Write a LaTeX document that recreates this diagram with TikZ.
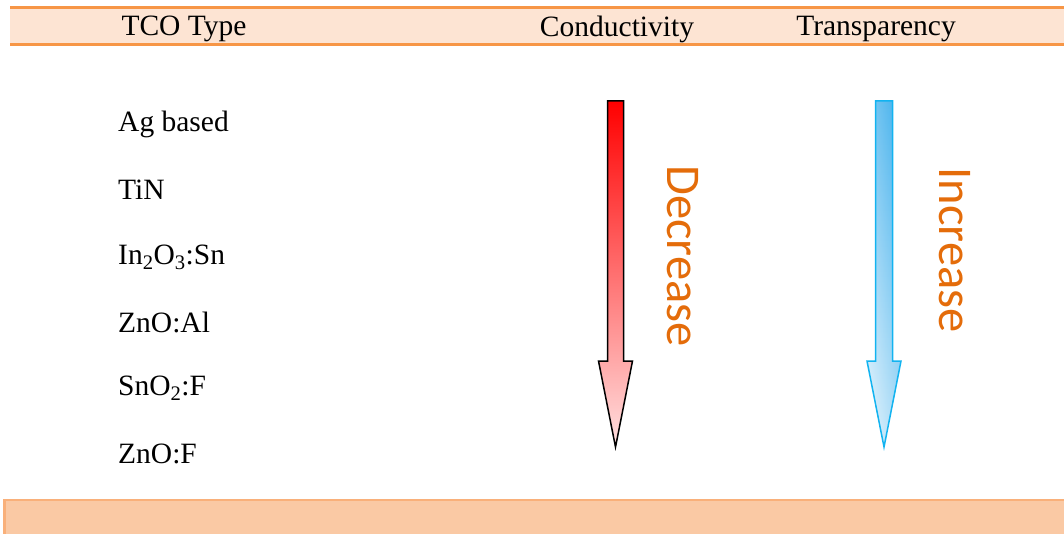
\documentclass[tikz,border=0pt]{standalone}
\usepackage{fontspec}
\setmainfont{Liberation Serif}
\newfontfamily\calib{Carlito}
\definecolor{hdrfill}{HTML}{FDE4D3}
\definecolor{hdrline}{HTML}{F79646}
\definecolor{botfill}{HTML}{FAC9A4}
\definecolor{botline}{HTML}{F9B07A}
\definecolor{lbl}{HTML}{E46C0A}
\definecolor{bluedark}{HTML}{3FAFEC}
\definecolor{bluelight}{HTML}{E2F3FD}
\definecolor{blueline}{HTML}{12B3F0}
\tikzset{
  hdr/.style={font=\fontsize{29.5}{34}\selectfont, anchor=center},
  item/.style={font=\fontsize{29.5}{34}\selectfont, anchor=west, inner sep=0pt},
  vlabel/.style={font=\calib\fontsize{48.5}{52}\selectfont, text=lbl, rotate=-90, anchor=center},
}
\begin{document}
\begin{tikzpicture}[x=1pt,y=-1pt]
\useasboundingbox (0,0) rectangle (1064,534);
% header band
\fill[hdrfill] (10,8) rectangle (1064,45);
\draw[hdrline, line width=3pt] (10,8) -- (1064,8);
\draw[hdrline, line width=3pt] (10,45) -- (1064,45);
\node[hdr] (h1) at (184,29) {TCO Type};
\node[hdr] (h2) at (617,29) {Conductivity};
\node[hdr] (h3) at (876,29) {Transparency};
% bottom band
\draw[botline, fill=botfill, line width=2.5pt] (4.5,500) -- (1070,500) -- (1070,540) -- (4.5,540) -- cycle;
% items
\node[item] (i1) at (118,124) {Ag based};
\node[item] (i2) at (118,190) {TiN};
\node[item] (i3) at (118,257) {In\textsubscript{2}O\textsubscript{3}:Sn};
\node[item] (i4) at (118,322) {ZnO:Al};
\node[item] (i5) at (118,388) {SnO\textsubscript{2}:F};
\node[item] (i6) at (118,454) {ZnO:F};
% red arrow
\draw[black, line width=1.5pt, line join=miter, top color=red, bottom color=red!12]
  (607.5,101) -- (623.5,101) -- (623.5,361) -- (632.5,361) -- (615.5,447) -- (598.5,361) -- (607.5,361) -- cycle;
% blue arrow
\path[top color=bluedark, bottom color=bluelight]
  (875.5,101) -- (892.5,101) -- (892.5,361) -- (901,361) -- (884,447) -- (867,361) -- (875.5,361) -- cycle;
\path[left color=white, right color=bluedark, fill opacity=0.35]
  (875.5,101) -- (892.5,101) -- (892.5,361) -- (901,361) -- (884,447) -- (867,361) -- (875.5,361) -- cycle;
\draw[blueline, line width=1.5pt, line join=miter]
  (875.5,101) -- (892.5,101) -- (892.5,361) -- (901,361) -- (884,447) -- (867,361) -- (875.5,361) -- cycle;
% labels
\node[vlabel] (d) at (683,256) {Decrease};
\node[vlabel] (inc) at (955,250) {Increase};
\end{tikzpicture}
\end{document}
